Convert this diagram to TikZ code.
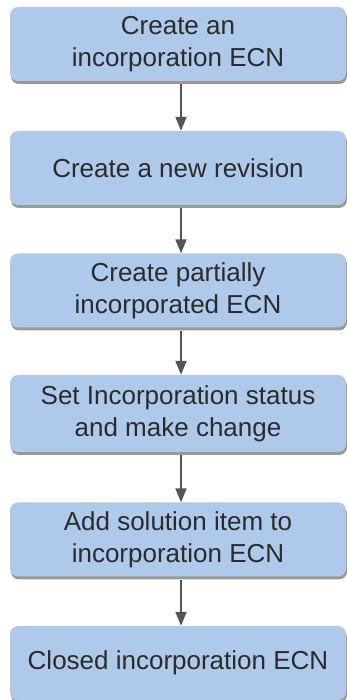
\documentclass[tikz,border=0pt]{standalone}
\usepackage{fontspec}
\setmainfont{Liberation Sans}
\usetikzlibrary{arrows.meta,shadows}
\definecolor{boxfill}{HTML}{AFC9EA}
\definecolor{txtc}{HTML}{2B2B2B}
\definecolor{arrc}{HTML}{555555}
\begin{document}
\begin{tikzpicture}[x=1pt,y=1pt,
  stepbox/.style={rectangle, rounded corners=8pt, fill=boxfill,
    minimum width=336pt, minimum height=74pt, inner sep=0pt,
    text=txtc, align=center, font=\fontsize{26}{32}\selectfont,
    drop shadow={shadow xshift=1pt, shadow yshift=-3pt, fill=gray, opacity=0.8}},
  flow/.style={draw=arrc, line width=2pt, -{Triangle[length=14pt,width=11pt]}, color=arrc}]
\useasboundingbox (0,0) rectangle (347,700);
\node[stepbox] (b1) at (178,656) {Create an\\incorporation ECN};
\node[stepbox] (b2) at (178,532) {Create a new revision};
\node[stepbox] (b3) at (178,409.5) {Create partially\\incorporated ECN};
\node[stepbox, minimum height=77pt] (b4) at (178,286.5) {Set Incorporation status\\and make change};
\node[stepbox] (b5) at (178,160.5) {Add solution item to\\incorporation ECN};
\node[stepbox] (b6) at (178,37) {Closed incorporation ECN};
\foreach \a/\b in {b1/b2,b2/b3,b3/b4,b4/b5,b5/b6}
  \draw[flow] ([xshift=3pt,yshift=-3pt]\a.south) -- ([xshift=3pt]\b.north);
\end{tikzpicture}
\end{document}
